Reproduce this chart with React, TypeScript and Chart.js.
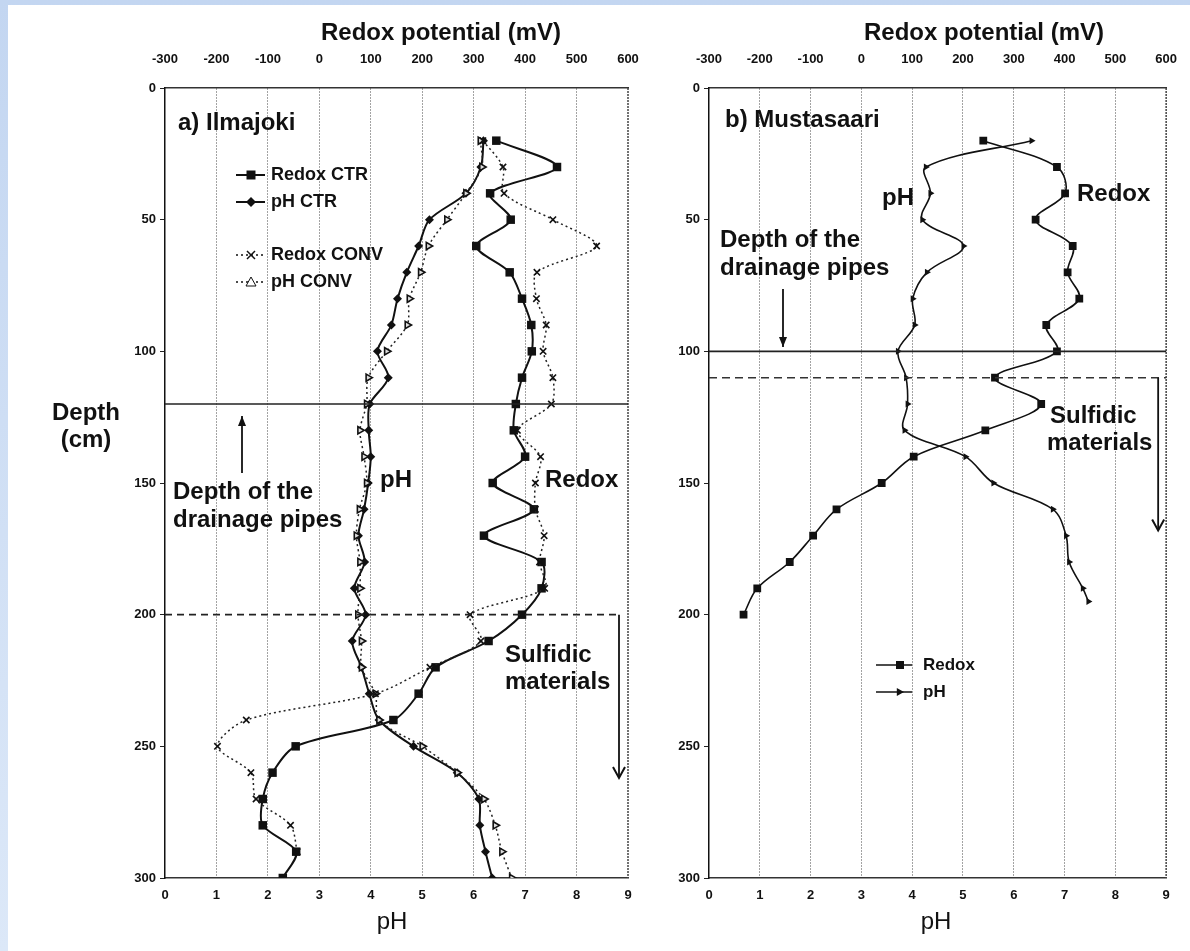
import React, { useEffect, useRef } from 'react';
import { Chart, registerables } from 'chart.js';
Chart.register(...registerables);

const W = 1190;
const H = 951;
const FONT = '"Liberation Sans", Arial, Helvetica, sans-serif';

// ---------- Panel a) Ilmajoki ----------
const depthA = [20, 30, 40, 50, 60, 70, 80, 90, 100, 110, 120, 130, 140, 150, 160, 170, 180, 190, 200, 210, 220, 230, 240, 250, 260, 270, 280, 290, 300];
const redoxCtrA = [344, 462, 332, 372, 305, 370, 394, 412, 413, 394, 382, 378, 400, 337, 417, 320, 432, 432, 394, 329, 226, 193, 144, -46, -91, -110, -110, -45, -71];
const phCtrA = [6.19, 6.14, 5.85, 5.14, 4.93, 4.7, 4.52, 4.4, 4.13, 4.34, 3.98, 3.96, 4.0, 3.95, 3.87, 3.76, 3.88, 3.68, 3.9, 3.64, 3.82, 3.97, 4.16, 4.83, 5.68, 6.1, 6.12, 6.23, 6.36];
const depthConvRedoxA = [20, 30, 40, 50, 60, 70, 80, 90, 100, 110, 120, 130, 140, 150, 160, 170, 180, 190, 200, 210, 220, 230, 240, 250, 260, 270, 280, 290];
const redoxConvA = [318, 357, 359, 454, 539, 423, 422, 441, 435, 454, 451, 385, 430, 420, 420, 437, 428, 438, 293, 314, 215, 109, -142, -198, -133, -123, -56, -43];
const phConvA = [6.13, 6.16, 5.85, 5.48, 5.12, 4.97, 4.75, 4.71, 4.31, 3.95, 3.92, 3.79, 3.87, 3.92, 3.78, 3.72, 3.79, 3.79, 3.75, 3.82, 3.82, 4.09, 4.16, 5.0, 5.68, 6.2, 6.42, 6.55, 6.74];

// ---------- Panel b) Mustasaari ----------
const depthRedoxB = [20, 30, 40, 50, 60, 70, 80, 90, 100, 110, 120, 130, 140, 150, 160, 170, 180, 190, 200];
const redoxB = [240, 385, 401, 343, 416, 406, 429, 364, 385, 263, 354, 244, 103, 40, -49, -95, -141, -205, -232];
const depthPhB = [20, 30, 40, 50, 60, 70, 80, 90, 100, 110, 120, 130, 140, 150, 160, 170, 180, 190, 195];
const phB = [6.35, 4.27, 4.36, 4.2, 5.01, 4.29, 4.01, 4.05, 3.72, 3.88, 3.91, 3.85, 5.05, 5.6, 6.77, 7.03, 7.09, 7.36, 7.47];

// axis ranges / ticks
const PH_MIN = 0, PH_MAX = 9, PH_STEP = 1;
const REDOX_MIN = -300, REDOX_MAX = 600, REDOX_STEP = 100;
const DEPTH_MIN = 0, DEPTH_MAX = 300, DEPTH_STEP = 50;

const PLOT_TOP = 88;
const PLOT_BOTTOM = 878;

type Ctx = CanvasRenderingContext2D;

function txt(ctx: Ctx, s: string, x: number, y: number, size: number, bold = true, align: CanvasTextAlign = 'left') {
  ctx.save();
  ctx.fillStyle = '#111';
  ctx.font = `${bold ? 'bold ' : ''}${size}px ${FONT}`;
  ctx.textAlign = align;
  ctx.textBaseline = 'middle';
  ctx.fillText(s, x, y);
  ctx.restore();
}

function seg(ctx: Ctx, x1: number, y1: number, x2: number, y2: number, lw: number, color: string, dash: number[] = []) {
  ctx.save();
  ctx.strokeStyle = color;
  ctx.lineWidth = lw;
  ctx.setLineDash(dash);
  ctx.beginPath();
  ctx.moveTo(x1, y1);
  ctx.lineTo(x2, y2);
  ctx.stroke();
  ctx.restore();
}

function vArrow(ctx: Ctx, x: number, y1: number, y2: number, open: boolean) {
  const dir = y2 > y1 ? 1 : -1;
  seg(ctx, x, y1, x, y2, 1.8, '#111');
  ctx.save();
  ctx.strokeStyle = '#111';
  ctx.fillStyle = '#111';
  ctx.lineWidth = 2;
  ctx.beginPath();
  if (open) {
    ctx.moveTo(x - 6, y2 - dir * 11);
    ctx.lineTo(x, y2);
    ctx.lineTo(x + 6, y2 - dir * 11);
    ctx.stroke();
  } else {
    ctx.moveTo(x, y2);
    ctx.lineTo(x - 4, y2 - dir * 10);
    ctx.lineTo(x + 4, y2 - dir * 10);
    ctx.closePath();
    ctx.fill();
  }
  ctx.restore();
}

function marker(ctx: Ctx, kind: string, x: number, y: number, r: number) {
  ctx.save();
  ctx.strokeStyle = '#111';
  ctx.fillStyle = '#111';
  ctx.lineWidth = 1.5;
  ctx.beginPath();
  if (kind === 'rect') {
    ctx.rect(x - r, y - r, 2 * r, 2 * r);
    ctx.fill();
  } else if (kind === 'diamond') {
    ctx.moveTo(x, y - r);
    ctx.lineTo(x + r, y);
    ctx.lineTo(x, y + r);
    ctx.lineTo(x - r, y);
    ctx.closePath();
    ctx.fill();
  } else if (kind === 'x') {
    ctx.moveTo(x - r, y - r);
    ctx.lineTo(x + r, y + r);
    ctx.moveTo(x + r, y - r);
    ctx.lineTo(x - r, y + r);
    ctx.stroke();
  } else if (kind === 'triUp') {
    ctx.fillStyle = '#fff';
    ctx.moveTo(x, y - r);
    ctx.lineTo(x + r, y + r * 0.8);
    ctx.lineTo(x - r, y + r * 0.8);
    ctx.closePath();
    ctx.fill();
    ctx.lineWidth = 1;
    ctx.stroke();
  } else if (kind === 'triRight') {
    ctx.moveTo(x + r, y);
    ctx.lineTo(x - r * 0.8, y - r);
    ctx.lineTo(x - r * 0.8, y + r);
    ctx.closePath();
    ctx.fill();
  }
  ctx.restore();
}

function legendRow(ctx: Ctx, x1: number, x2: number, mx: number, y: number, dash: number[], kind: string, r: number, label: string, size: number, textX: number, lw: number) {
  seg(ctx, x1, y, x2, y, lw, '#111', dash);
  marker(ctx, kind, mx, y, r);
  txt(ctx, label, textX, y, size, true);
}

function pts(xs: number[], ys: number[]) {
  return ys.map((d, i) => ({ x: xs[i], y: d }));
}

type PanelCfg = {
  plotLeft: number;
  plotRight: number;
  datasets: any[];
  draw: (chart: any) => void;
};

function makeChart(canvas: HTMLCanvasElement, cfg: PanelCfg) {
  const tickFont = { family: FONT, size: 13, weight: 'bold' as const };
  const annot = {
    id: 'annot',
    afterDraw(chart: any) {
      cfg.draw(chart);
    },
  };
  return new Chart(canvas, {
    type: 'scatter',
    data: { datasets: cfg.datasets },
    plugins: [annot],
    options: {
      responsive: false,
      animation: false,
      events: [],
      layout: { padding: { left: 0, right: W - cfg.plotRight, top: 0, bottom: 0 } },
      plugins: { legend: { display: false }, tooltip: { enabled: false }, title: { display: false } },
      scales: {
        x: {
          type: 'linear',
          position: 'bottom',
          min: PH_MIN,
          max: PH_MAX,
          ticks: { stepSize: PH_STEP, color: '#111', font: tickFont, padding: 10, maxRotation: 0 },
          grid: {
            display: true,
            drawTicks: false,
            lineWidth: 1,
            color: (c: any) => {
              const v = c.tick ? c.tick.value : -1;
              if (v === PH_MIN || v === PH_MAX) return 'rgba(0,0,0,0)';
              return '#a3a3a3';
            },
          },
          border: { display: true, color: '#333', width: 1.5, dash: [2, 1] },
          afterFit: (s: any) => { s.height = H - PLOT_BOTTOM; },
        },
        x2: {
          type: 'linear',
          position: 'top',
          min: REDOX_MIN,
          max: REDOX_MAX,
          ticks: { stepSize: REDOX_STEP, color: '#111', font: tickFont, padding: 13, maxRotation: 0 },
          grid: { display: false },
          border: { display: true, color: '#333', width: 1.5, dash: [2, 1] },
          afterFit: (s: any) => { s.height = PLOT_TOP; },
        },
        y: {
          type: 'linear',
          position: 'left',
          min: DEPTH_MIN,
          max: DEPTH_MAX,
          reverse: true,
          ticks: { stepSize: DEPTH_STEP, color: '#111', font: tickFont, padding: 4 },
          grid: { display: true, drawOnChartArea: false, drawTicks: true, tickLength: 5, color: '#222' },
          border: { display: true, color: '#111', width: 1.5 },
          afterFit: (s: any) => { s.width = cfg.plotLeft; },
        },
      },
    } as any,
  });
}

function rightBorder(chart: any) {
  const { right, top, bottom } = chart.chartArea;
  seg(chart.ctx, right, top, right, bottom, 1.5, '#444', [2, 1]);
}

const ctrLine = { borderColor: '#111', borderWidth: 2, tension: 0.3, fill: false, showLine: true };
const convLine = { borderColor: '#222', borderWidth: 1.5, borderDash: [2, 3], tension: 0.3, fill: false, showLine: true };

const panelA: PanelCfg = {
  plotLeft: 165,
  plotRight: 628,
  datasets: [
    {
      label: 'Redox CONV', data: pts(redoxConvA, depthConvRedoxA), xAxisID: 'x2', yAxisID: 'y', ...convLine,
      pointStyle: 'crossRot', pointRadius: 4.5, pointBorderColor: '#111', pointBorderWidth: 1.6, pointBackgroundColor: '#111',
    },
    {
      label: 'pH CONV', data: pts(phConvA, depthA), xAxisID: 'x', yAxisID: 'y', ...convLine,
      pointStyle: 'triangle', pointRotation: 90, pointRadius: 4.2, pointBorderColor: '#111', pointBorderWidth: 1.6, pointBackgroundColor: '#ddd',
    },
    {
      label: 'Redox CTR', data: pts(redoxCtrA, depthA), xAxisID: 'x2', yAxisID: 'y', ...ctrLine,
      pointStyle: 'rect', pointRadius: 6, pointBorderColor: '#111', pointBorderWidth: 0, pointBackgroundColor: '#111',
    },
    {
      label: 'pH CTR', data: pts(phCtrA, depthA), xAxisID: 'x', yAxisID: 'y', ...ctrLine,
      pointStyle: 'rectRot', pointRadius: 4.5, pointBorderColor: '#111', pointBorderWidth: 0, pointBackgroundColor: '#111',
    },
  ],
  draw(chart: any) {
    const ctx: Ctx = chart.ctx;
    const y = chart.scales.y;
    const { left, right } = chart.chartArea;
    rightBorder(chart);
    const yPipe = y.getPixelForValue(120);
    seg(ctx, left, yPipe, right, yPipe, 1.6, '#222');
    const ySulf = y.getPixelForValue(200);
    const xSulf = right - 9;
    seg(ctx, left, ySulf, xSulf, ySulf, 1.8, '#222', [7, 5]);
    vArrow(ctx, xSulf, ySulf, y.getPixelForValue(262), true);
    vArrow(ctx, 242, 473, 416, false);
    txt(ctx, 'Redox potential (mV)', 441, 33, 24, true, 'center');
    txt(ctx, 'pH', 392, 922, 24, false, 'center');
    txt(ctx, 'Depth', 86, 413, 24, true, 'center');
    txt(ctx, '(cm)', 86, 440, 24, true, 'center');
    txt(ctx, 'a) Ilmajoki', 178, 123, 24);
    legendRow(ctx, 236, 265, 251, 175, [], 'rect', 4.5, 'Redox CTR', 18, 271, 2);
    legendRow(ctx, 236, 265, 251, 202, [], 'diamond', 5, 'pH CTR', 18, 271, 2);
    legendRow(ctx, 236, 265, 251, 255, [2, 3], 'x', 4, 'Redox CONV', 18, 271, 1.5);
    legendRow(ctx, 236, 265, 251, 282, [2, 3], 'triUp', 5, 'pH CONV', 18, 271, 1.5);
    txt(ctx, 'Depth of the', 173, 492, 24);
    txt(ctx, 'drainage pipes', 173, 520, 24);
    txt(ctx, 'pH', 380, 480, 24);
    txt(ctx, 'Redox', 545, 480, 24);
    txt(ctx, 'Sulfidic', 505, 655, 24);
    txt(ctx, 'materials', 505, 682, 24);
  },
};

const lineB = { borderColor: '#111', borderWidth: 1.6, tension: 0.35, fill: false, showLine: true };

const panelB: PanelCfg = {
  plotLeft: 709,
  plotRight: 1172,
  datasets: [
    {
      label: 'Redox', data: pts(redoxB, depthRedoxB), xAxisID: 'x2', yAxisID: 'y', ...lineB,
      pointStyle: 'rect', pointRadius: 5.5, pointBorderWidth: 0, pointBackgroundColor: '#111', pointBorderColor: '#111',
    },
    {
      label: 'pH', data: pts(phB, depthPhB), xAxisID: 'x', yAxisID: 'y', ...lineB,
      pointStyle: 'triangle', pointRotation: 90, pointRadius: 4, pointBorderWidth: 0, pointBackgroundColor: '#111', pointBorderColor: '#111',
    },
  ],
  draw(chart: any) {
    const ctx: Ctx = chart.ctx;
    const y = chart.scales.y;
    const { left, right } = chart.chartArea;
    rightBorder(chart);
    const yPipe = y.getPixelForValue(100);
    seg(ctx, left, yPipe, right, yPipe, 1.6, '#222');
    const ySulf = y.getPixelForValue(110);
    seg(ctx, left, ySulf, right, ySulf, 1.5, '#333', [8, 5]);
    vArrow(ctx, right - 8, ySulf, y.getPixelForValue(168), true);
    vArrow(ctx, 783, 289, 347, false);
    txt(ctx, 'Redox potential (mV)', 984, 33, 24, true, 'center');
    txt(ctx, 'pH', 936, 922, 24, false, 'center');
    txt(ctx, 'b) Mustasaari', 725, 120, 24);
    txt(ctx, 'pH', 882, 198, 24);
    txt(ctx, 'Redox', 1077, 194, 24);
    txt(ctx, 'Depth of the', 720, 240, 24);
    txt(ctx, 'drainage pipes', 720, 268, 24);
    txt(ctx, 'Sulfidic', 1050, 416, 24);
    txt(ctx, 'materials', 1047, 443, 24);
    legendRow(ctx, 876, 912, 900, 665, [], 'rect', 4, 'Redox', 17, 923, 1.6);
    legendRow(ctx, 876, 912, 900, 692, [], 'triRight', 4, 'pH', 17, 923, 1.6);
  },
};

export default function App() {
  const aRef = useRef<HTMLCanvasElement>(null);
  const bRef = useRef<HTMLCanvasElement>(null);
  useEffect(() => {
    const ca = makeChart(aRef.current as HTMLCanvasElement, panelA);
    const cb = makeChart(bRef.current as HTMLCanvasElement, panelB);
    return () => {
      ca.destroy();
      cb.destroy();
    };
  }, []);
  const cs: React.CSSProperties = { position: 'absolute', left: 0, top: 0, width: W, height: H };
  return (
    <div style={{ position: 'absolute', left: 0, top: 0, width: W, height: H, overflow: 'hidden', background: 'linear-gradient(#c3d6f1, #dce8f8)' }}>
      <div style={{ position: 'absolute', left: 8, top: 5, right: 0, bottom: 0, background: '#fff' }} />
      <canvas ref={aRef} width={W} height={H} style={cs} />
      <canvas ref={bRef} width={W} height={H} style={cs} />
    </div>
  );
}
